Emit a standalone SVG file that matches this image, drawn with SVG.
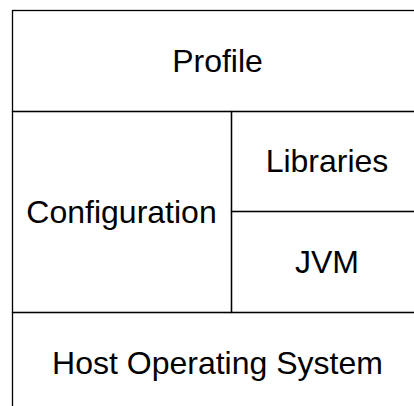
<svg xmlns="http://www.w3.org/2000/svg" width="414" height="406" viewBox="0 0 414 406">
  <style>
    .box { fill: none; stroke: #000; stroke-width: 1.3; }
    .label { font-family: "Liberation Sans", Arial, sans-serif; font-size: 32px; fill: #000; text-anchor: middle; }
  </style>
  <rect width="414" height="406" fill="#fff"/>
  <!-- layered stack; right and bottom edges run past the canvas -->
  <g id="profile">
    <rect class="box" x="12.5" y="10.5" width="411" height="101"/>
    <text class="label" x="217.5" y="72">Profile</text>
  </g>
  <g id="configuration">
    <rect class="box" x="12.5" y="111.5" width="219" height="201"/>
    <text class="label" x="121.5" y="222.5">Configuration</text>
  </g>
  <g id="libraries">
    <rect class="box" x="231.5" y="111.5" width="192" height="100"/>
    <text class="label" x="327" y="172">Libraries</text>
  </g>
  <g id="jvm">
    <rect class="box" x="231.5" y="211.5" width="192" height="101"/>
    <text class="label" x="327" y="272.5">JVM</text>
  </g>
  <g id="host-os">
    <rect class="box" x="12.5" y="312.5" width="411" height="100"/>
    <text class="label" x="217.5" y="373.5">Host Operating System</text>
  </g>
  <g id="connectors"></g>
</svg>
